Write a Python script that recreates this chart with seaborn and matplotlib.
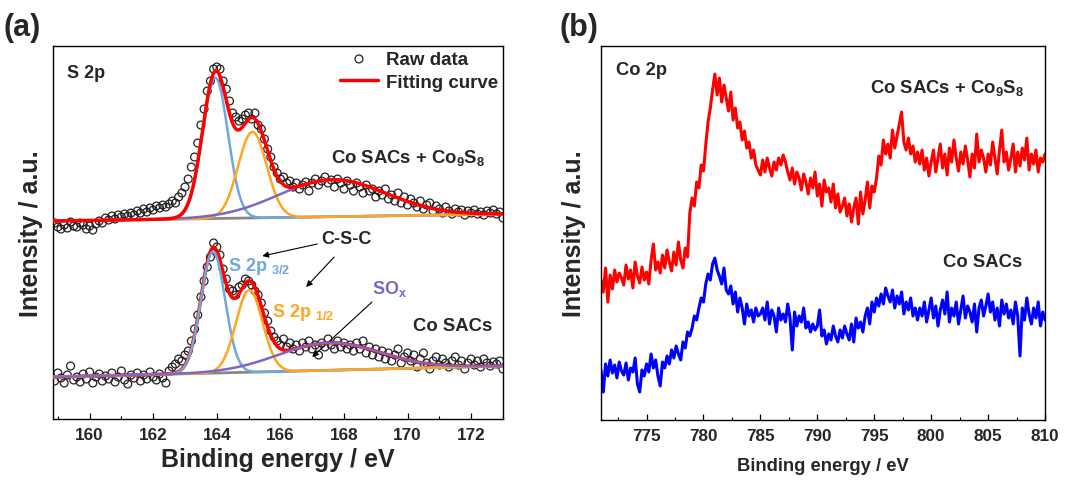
import numpy as np
import pandas as pd
import matplotlib
matplotlib.use("Agg")
import matplotlib.pyplot as plt
import seaborn as sns

# ---------------- data: panel (a) S 2p ----------------
a_start, a_step = 158.9, 0.1
raw_top = [196,192,190,194,191,197,193,192,196,194,190,193,189,195,198,196,201,199,203,200,
           204,202,205,203,206,204,208,206,210,207,211,209,213,211,214,212,
           215,218,216,222,226,232,240,252,262,276,294,310,328,338,350,352,350,338,330,318,
           306,302,298,300,304,306,300,306,294,290,280,270,262,252,246,240,242,236,238,232,
           236,230,234,237,228,236,240,234,238,242,236,239,232,240,236,230,238,234,228,236,
           232,226,234,228,230,222,228,224,230,220,224,218,226,216,222,214,220,216,212,218,
           210,214,216,208,213,210,206,212,208,205,210,207,209,204,208,206,209,205,207,204,
           208,206,209,205,207,201]
raw_bot = [38,46,41,36,44,53,39,42,37,45,40,47,36,42,45,38,43,40,46,37,
           42,48,39,35,44,41,46,38,44,40,47,42,39,45,41,36,
           48,52,55,60,58,64,68,78,90,104,122,138,152,162,176,172,164,150,140,130,
           128,124,132,134,140,138,134,128,124,116,106,98,88,82,78,74,80,72,76,70,
           74,68,76,72,78,70,74,64,76,72,80,74,70,78,72,76,70,74,68,76,
           70,78,66,72,64,70,62,68,60,66,58,64,70,56,62,66,58,64,52,60,
           66,56,50,58,62,54,60,56,52,58,62,54,58,50,56,60,54,58,52,60,
           56,53,57,55,58,50]

# fitted peaks: (S 2p3/2, S 2p1/2, SOx)
peak_names = ["S 2p3/2", "S 2p1/2", "SOx"]
top_centers = [163.95, 165.12, 167.63]
top_heights = [141, 86, 37]
top_sigmas = [0.40, 0.45, 1.70]
top_baseline = [198, 205]          # at x-limits 158.85 and 173.0
bot_centers = [163.88, 165.02, 167.53]
bot_heights = [121.5, 82, 27.4]
bot_sigmas = [0.38, 0.42, 1.60]
bot_baseline = [42, 53]

# ---------------- data: panel (b) Co 2p ----------------
b_start, b_step = 771.0, 0.2
co_mix = [140,128,152,118,145,131,150,138,147,142,
          135,155,141,150,132,158,144,137,153,140,
          148,136,160,176,150,158,147,165,152,170,
          158,149,168,155,178,160,152,172,163,207,
          222,214,238,232,255,249,275,298,312,330,
          346,325,342,318,335,322,309,328,300,312,
          292,298,280,289,272,278,262,270,255,250,
          245,260,248,262,252,244,258,250,262,255,
          265,258,248,240,252,236,248,242,230,246,
          238,226,242,232,248,224,236,214,240,228,
          232,218,236,212,226,208,214,222,204,216,
          198,212,222,196,228,206,220,238,212,234,
          228,242,264,255,280,266,276,262,290,272,
          284,296,308,278,270,282,266,274,258,268,
          256,270,250,262,244,258,270,248,262,276,
          252,266,245,272,258,280,262,249,268,256,
          274,260,243,266,252,286,258,270,262,248,
          266,255,278,262,246,270,290,258,268,250,
          262,276,248,268,254,272,260,282,250,266,
          256,270,248,262,258,266]
co_sac = [50,28,56,44,60,47,55,42,58,49,
          45,57,40,52,48,62,36,28,50,44,
          56,48,66,52,60,44,34,58,52,64,
          56,70,62,74,66,60,78,72,88,84,
          92,104,100,112,122,118,136,146,140,156,
          162,150,144,136,152,130,126,134,116,128,
          108,122,112,96,116,104,110,98,112,104,
          106,112,100,118,96,110,104,88,112,100,
          106,98,116,102,70,108,94,104,98,112,
          92,98,88,96,90,94,110,84,90,76,
          86,80,94,84,78,90,82,94,86,80,
          96,78,102,92,98,88,104,112,96,118,
          108,122,114,126,116,132,124,118,130,112,
          124,116,128,106,118,110,122,104,112,100,
          112,104,118,98,110,122,102,114,94,110,
          120,106,128,98,112,104,118,96,110,124,
          102,114,108,98,116,88,112,120,104,114,
          126,108,118,100,112,94,120,106,116,102,
          110,96,118,104,64,112,100,122,106,96,
          112,102,118,94,108,100]

# ---------------- style ----------------
sns.set_theme(style="white")
plt.rcParams['font.family'] = ['Liberation Sans', 'DejaVu Sans']
plt.rcParams['font.weight'] = 'bold'
plt.rcParams['mathtext.fontset'] = 'custom'
plt.rcParams['mathtext.rm'] = 'Liberation Sans:bold'
plt.rcParams['mathtext.it'] = 'Liberation Sans:bold'
plt.rcParams['mathtext.bf'] = 'Liberation Sans:bold'

C_BLUE = "#6FA8DC"
C_ORANGE = "#FFA51F"
C_PURPLE = "#7B68C4"
C_GRAY = "#888888"
C_RED = "#FF0000"
components_colors = [C_BLUE, C_ORANGE, C_PURPLE]

fig = plt.figure(figsize=(10.87, 4.85), dpi=100)
axa = fig.add_axes([0.0488, 0.134, 0.4139, 0.769])
axb = fig.add_axes([0.5529, 0.132, 0.4085, 0.771])

XLIM_A = (158.85, 173.0)
xa = np.round(a_start + a_step * np.arange(len(raw_top)), 3)
xfine = np.linspace(XLIM_A[0], XLIM_A[1], 600)


def draw_spectrum(ax, raw, centers, heights, sigmas, base, legend, red_on_top):
    bl = base[0] + (base[1] - base[0]) * (xfine - XLIM_A[0]) / (XLIM_A[1] - XLIM_A[0])
    df_raw = pd.DataFrame({"x": xa, "y": raw})
    sns.scatterplot(data=df_raw, x="x", y="y", ax=ax, marker="o", s=32,
                    facecolor="none", edgecolor="#222222", linewidth=0.9,
                    label="Raw data" if legend else None, zorder=2)
    sns.lineplot(x=xfine, y=bl, ax=ax, color=C_GRAY, lw=2.0, zorder=3)
    total = bl.copy()
    for c, h, s, col in zip(centers, heights, sigmas, components_colors):
        comp = h * np.exp(-(xfine - c) ** 2 / (2 * s ** 2))
        total = total + comp
        sns.lineplot(x=xfine, y=bl + comp, ax=ax, color=col, lw=1.8, zorder=4)
    sns.lineplot(x=xfine, y=total, ax=ax, color=C_RED, lw=2.5,
                 zorder=5 if red_on_top else 3.5,
                 label="Fitting curve" if legend else None)


draw_spectrum(axa, raw_top, top_centers, top_heights, top_sigmas, top_baseline, True, True)
draw_spectrum(axa, raw_bot, bot_centers, bot_heights, bot_sigmas, bot_baseline, False, False)

axa.set_xlim(*XLIM_A)
axa.set_ylim(0, 373)
axa.set_xticks([160, 162, 164, 166, 168, 170, 172])
axa.set_xticks(np.arange(159, 174, 1), minor=True)
axa.set_yticks([])
axa.set_xlabel("Binding energy / eV", fontsize=18, fontweight='bold')
axa.set_ylabel("Intensity / a.u.", fontsize=18, fontweight='bold')
axa.xaxis.set_label_coords(0.5, -0.075)
axa.yaxis.set_label_coords(-0.022, 0.5)

leg = axa.legend(loc="upper right", frameon=False, fontsize=13.5,
                 handlelength=2.0, handletextpad=0.45, labelspacing=0.3,
                 borderpad=0.15, borderaxespad=0.1, markerscale=1.0)
for t in leg.get_texts():
    t.set_fontweight('bold')

axa.text(0.031, 0.93, "S 2p", transform=axa.transAxes, fontsize=13,
         fontweight='bold', ha='left', va='center')
axa.text(0.789, 0.703, r"Co SACs + Co$_{9}$S$_{8}$", transform=axa.transAxes,
         fontsize=13.3, fontweight='bold', ha='center', va='center')
axa.text(0.976, 0.25, "Co SACs", transform=axa.transAxes, fontsize=13.3,
         fontweight='bold', ha='right', va='center')
axa.text(168.07, 181, "C-S-C", fontsize=13, fontweight='bold', ha='center', va='center')
axa.text(164.34, 154, r"S 2p $_{3/2}$", color=C_BLUE, fontsize=13,
         fontweight='bold', ha='left', va='center')
axa.text(165.75, 108, r"S 2p $_{1/2}$", color=C_ORANGE, fontsize=13,
         fontweight='bold', ha='left', va='center')
axa.text(168.88, 131, r"SO$_{x}$", color=C_PURPLE, fontsize=13,
         fontweight='bold', ha='left', va='center')
arrow_kw = dict(arrowstyle='-|>', color='black', lw=0.8, mutation_scale=9,
                shrinkA=0, shrinkB=0)
axa.annotate("", xy=(165.43, 163), xytext=(167.16, 175), arrowprops=arrow_kw)
axa.annotate("", xy=(166.81, 132), xytext=(167.69, 162), arrowprops=arrow_kw)
axa.annotate("", xy=(167.0, 62), xytext=(168.88, 117), arrowprops=arrow_kw)

# ---------------- panel (b) ----------------
xb = np.round(b_start + b_step * np.arange(len(co_mix)), 3)
df_b = pd.DataFrame({"x": np.concatenate([xb, xb]),
                     "y": np.concatenate([co_mix, co_sac]),
                     "s": ["mix"] * len(co_mix) + ["sac"] * len(co_sac)})
sns.lineplot(data=df_b, x="x", y="y", hue="s", palette={"mix": C_RED, "sac": "#0000FF"},
             ax=axb, lw=2.2, legend=False, estimator=None, sort=False)
axb.set_xlim(771, 810)
axb.set_ylim(0, 374)
axb.set_xticks([775, 780, 785, 790, 795, 800, 805, 810])
axb.set_xticks(np.arange(772.5, 810, 5), minor=True)
axb.set_yticks([])
axb.set_xlabel("Binding energy / eV", fontsize=13.2, fontweight='bold')
axb.set_ylabel("Intensity / a.u.", fontsize=18, fontweight='bold')
axb.xaxis.set_label_coords(0.5, -0.1)
axb.yaxis.set_label_coords(-0.034, 0.5)
axb.text(0.034, 0.936, "Co 2p", transform=axb.transAxes, fontsize=13.2,
         fontweight='bold', ha='left', va='center')
axb.text(0.78, 0.89, r"Co SACs + Co$_{9}$S$_{8}$", transform=axb.transAxes,
         fontsize=13.3, fontweight='bold', ha='center', va='center')
axb.text(0.86, 0.425, "Co SACs", transform=axb.transAxes, fontsize=13.3,
         fontweight='bold', ha='center', va='center')

for ax in (axa, axb):
    for sp in ax.spines.values():
        sp.set_visible(True)
        sp.set_color('black')
        sp.set_linewidth(1.0)
    ax.tick_params(axis='x', which='both', direction='in', bottom=True, top=False,
                   labelsize=12.3, pad=6, color='black')
    ax.tick_params(axis='x', which='major', length=4, width=0.9)
    ax.tick_params(axis='x', which='minor', length=2.5, width=0.8)
    for lab in ax.get_xticklabels():
        lab.set_fontweight('bold')

fig.text(0.003, 0.942, "(a)", fontsize=22, fontweight='bold', ha='left', va='center')
fig.text(0.515, 0.942, "(b)", fontsize=22, fontweight='bold', ha='left', va='center')

fig.savefig("out.png", dpi=100)
